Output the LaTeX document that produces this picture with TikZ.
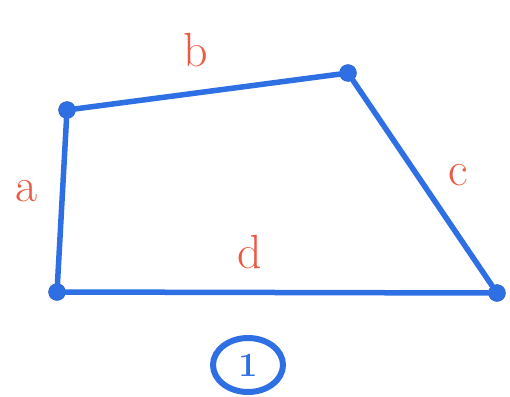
\documentclass[tikz,border=0pt]{standalone}
\usepackage{xcolor}
\usetikzlibrary{shapes.geometric}
\definecolor{penblue}{HTML}{2F6FE4}
\definecolor{penred}{HTML}{EC5A45}
\tikzset{
  corner/.style={circle, fill=penblue, draw=penblue!80!black, inner sep=0pt, minimum size=17pt},
  edge/.style={draw=penblue, line width=5.5pt, line cap=round},
  sidelabel/.style={text=penred, font=\fontsize{48}{48}\selectfont, inner sep=0pt},
  tag/.style={ellipse, draw=penblue, line width=6pt, text=penblue, minimum width=70pt,
    minimum height=54pt, inner sep=0pt, font=\fontsize{34}{34}\selectfont\bfseries}
}
\begin{document}
\begin{tikzpicture}[x=1pt, y=-1pt]
  \useasboundingbox[fill=white] (0,0) rectangle (510,396);
  % corners of the quadrilateral
  \node[corner] (tl) at (67,110) {};
  \node[corner] (tr) at (348,73) {};
  \node[corner] (br) at (497,293) {};
  \node[corner] (bl) at (57,292) {};

  \draw[edge] (tl) -- (tr);
  \draw[edge] (tr) -- (br);
  \draw[edge] (br) -- (bl);
  \draw[edge] (bl) -- (tl);

  % side names
  \node[sidelabel] (la) at (27,191) {a};
  \node[sidelabel] (lb) at (196,50) {b};
  \node[sidelabel] (lc) at (458,175) {c};
  \node[sidelabel] (ld) at (250,252) {d};

  \node[tag] (num) at (248,365) {1};
\end{tikzpicture}
\end{document}
